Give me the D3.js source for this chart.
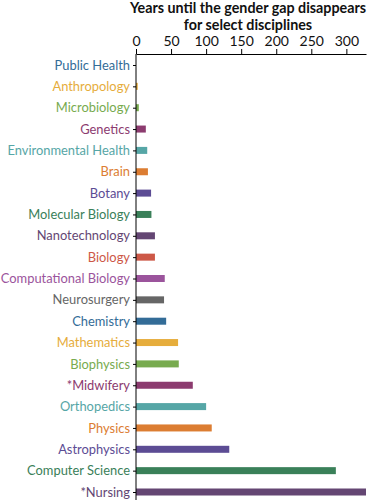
<!DOCTYPE html>
<html>
<head>
<meta charset="utf-8">
<script src="https://cdn.jsdelivr.net/npm/d3@7"></script>
<style>
  body { margin: 0; background: #fff; }
  svg { font-family: Lato, sans-serif; }
  .axis path, .axis line { stroke: #000; }
</style>
</head>
<body>
<div id="chart"></div>
<script>
// disciplines, top to bottom
const disciplines = ['Public Health', 'Anthropology', 'Microbiology', 'Genetics', 'Environmental Health',
  'Brain', 'Botany', 'Molecular Biology', 'Nanotechnology', 'Biology', 'Computational Biology',
  'Neurosurgery', 'Chemistry', 'Mathematics', 'Biophysics', '*Midwifery', 'Orthopedics',
  'Physics', 'Astrophysics', 'Computer Science', '*Nursing'];
// years until parity
const years = [0, 2.5, 4, 14, 16, 17, 21.5, 22, 27, 27, 41, 40, 43, 60, 61, 81, 100, 108, 133, 285, 328];
const xTicks = [0, 50, 100, 150, 200, 250, 300];
const palette = ['#336c97', '#e6ad3c', '#78ab4f', '#8c3b6f', '#56a6a6', '#dc7d32',
  '#5c4c94', '#3a8059', '#644673', '#cd5847', '#9b549c', '#666666'];

const width = 370, height = 500;
const svg = d3.select('#chart').append('svg')
  .attr('width', width).attr('height', height);

const marginLeft = 136, marginRight = 366, axisTop = 54;

const x = d3.scaleLinear()
  .domain([0, d3.max(years)])
  .range([marginLeft, marginRight]);

const y = d3.scalePoint()
  .domain(disciplines)
  .range([65, 492]);

const color = d => palette[disciplines.indexOf(d) % palette.length];

// title
const title = svg.append('text')
  .attr('text-anchor', 'middle')
  .attr('font-weight', 'bold')
  .attr('font-size', 14.3)
  .attr('fill', '#111');
title.append('tspan').attr('x', 248).attr('y', 13).text('Years until the gender gap disappears');
title.append('tspan').attr('x', 248).attr('y', 30).text('for select disciplines');

// bars
svg.append('g')
  .selectAll('rect')
  .data(disciplines)
  .join('rect')
  .attr('x', x(0))
  .attr('y', d => y(d) - 3.5)
  .attr('width', (d, i) => x(years[i]) - x(0))
  .attr('height', 7)
  .attr('fill', d => color(d));

// x axis on top
svg.append('g')
  .attr('class', 'axis')
  .attr('transform', 'translate(0,' + axisTop + ')')
  .call(d3.axisTop(x).tickValues(xTicks).tickSize(5).tickSizeOuter(0).tickPadding(3))
  .call(g => g.selectAll('text').attr('font-size', 14).attr('fill', '#111').attr('font-family', 'Lato, sans-serif'));

// y axis
const yAxis = svg.append('g')
  .attr('class', 'axis')
  .attr('transform', 'translate(' + marginLeft + ',0)')
  .call(d3.axisLeft(y).tickSize(3).tickPadding(3))
  .call(g => g.select('.domain').remove());

yAxis.selectAll('text')
  .attr('font-size', 12.9)
  .attr('font-family', 'Lato, sans-serif')
  .attr('fill', d => color(d));

yAxis.append('line')
  .attr('x1', 0).attr('x2', 0)
  .attr('y1', axisTop).attr('y2', height)
  .attr('stroke', '#000');
</script>
</body>
</html>
